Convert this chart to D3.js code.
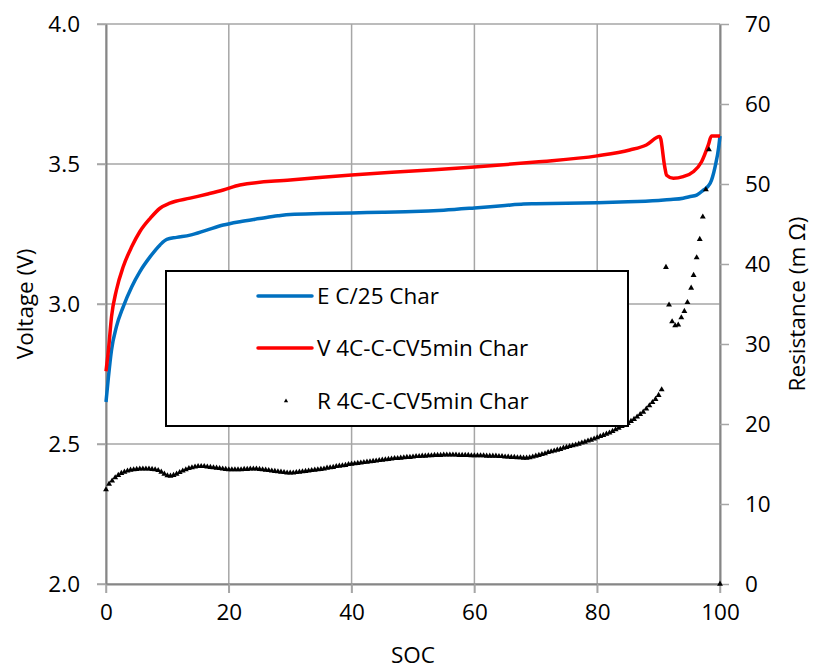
<!DOCTYPE html>
<html>
<head>
<meta charset="utf-8">
<script src="https://cdn.jsdelivr.net/npm/d3@7"></script>
<style>
  body { margin: 0; background: #fff; }
  svg text { font-family: "Open Sans", "Noto Sans", sans-serif; fill: #000; }
</style>
</head>
<body>
<div id="chart"></div>
<script>
// E C/25 Char (SOC, V)
const socE = [0, 0.4, 0.9, 1.7, 2.8, 4.2, 5.5, 7.2, 8.8, 9.9, 11.5, 13.7, 16.4, 19.1, 21.8, 25, 28, 30, 35, 40, 45, 50, 55, 60, 65, 68, 70, 75, 80, 85, 90, 92, 94, 95, 96.2, 97.2, 98.4, 99.2, 99.8, 100];
const voltE = [2.65, 2.74, 2.836, 2.919, 2.99, 3.062, 3.115, 3.169, 3.211, 3.231, 3.238, 3.246, 3.264, 3.282, 3.294, 3.305, 3.315, 3.32, 3.323, 3.325, 3.328, 3.33, 3.335, 3.343, 3.352, 3.357, 3.358, 3.36, 3.362, 3.365, 3.37, 3.373, 3.378, 3.383, 3.389, 3.405, 3.431, 3.49, 3.562, 3.6];

// V 4C-C-CV5min Char (SOC, V)
const socV = [0, 0.4, 0.9, 1.7, 2.8, 4.2, 5.5, 7.2, 8.8, 10.4, 13.7, 16.4, 19.1, 21.8, 30, 40, 50, 60, 70, 80, 85.3, 88, 90.2, 91.0, 91.3, 92.4, 94.0, 95.7, 97.0, 98.1, 98.6, 100];
const voltV = [2.76, 2.836, 2.955, 3.05, 3.133, 3.205, 3.258, 3.306, 3.342, 3.36, 3.378, 3.392, 3.407, 3.425, 3.443, 3.461, 3.475, 3.489, 3.507, 3.529, 3.55, 3.568, 3.598, 3.49, 3.46, 3.449, 3.455, 3.473, 3.508, 3.568, 3.6, 3.6];

// R 4C-C-CV5min Char (m Ohm), read every 0.5 SOC from 0 to 90.5
const socR = d3.range(0, 91, 0.5);
const resR = [
  11.8, 12.5, 12.9, 13.3, 13.6, 13.85, 14.0, 14.15, 14.25, 14.3,
  14.35, 14.4, 14.4, 14.4, 14.4, 14.35, 14.3, 14.2, 14.0, 13.75,
  13.55, 13.5, 13.6, 13.75, 13.95, 14.15, 14.3, 14.45, 14.55, 14.65,
  14.7, 14.7, 14.7, 14.65, 14.6, 14.55, 14.5, 14.45, 14.4, 14.35,
  14.3, 14.3, 14.3, 14.3, 14.3, 14.35, 14.35, 14.4, 14.4, 14.4,
  14.35, 14.3, 14.25, 14.2, 14.15, 14.1, 14.05, 14.0, 13.95, 13.9,
  13.9, 13.9, 13.95, 14.0, 14.05, 14.1, 14.15, 14.2, 14.25, 14.3,
  14.35, 14.4, 14.5, 14.55, 14.6, 14.7, 14.75, 14.8, 14.85, 14.95,
  15.0, 15.05, 15.1, 15.15, 15.2, 15.25, 15.3, 15.35, 15.4, 15.45,
  15.5, 15.55, 15.6, 15.65, 15.7, 15.7, 15.75, 15.8, 15.85, 15.85,
  15.9, 15.95, 15.95, 16.0, 16.0, 16.05, 16.05, 16.1, 16.1, 16.1,
  16.15, 16.15, 16.15, 16.15, 16.15, 16.1, 16.1, 16.1, 16.1, 16.05,
  16.05, 16.05, 16.05, 16.05, 16.0, 16.0, 16.0, 16.0, 15.95, 15.95,
  15.9, 15.9, 15.85, 15.85, 15.8, 15.8, 15.75, 15.75, 15.8, 15.9,
  16.0, 16.1, 16.2, 16.3, 16.45, 16.55, 16.65, 16.75, 16.85, 17.0,
  17.1, 17.2, 17.3, 17.4, 17.5, 17.65, 17.75, 17.9, 18.0, 18.15,
  18.3, 18.45, 18.6, 18.75, 18.9, 19.1, 19.3, 19.5, 19.7, 19.9,
  20.1, 20.35, 20.6, 20.9, 21.2, 21.5, 21.9, 22.3, 22.7, 23.1,
  23.6, 24.3
];
// scattered points after the CV step
const socTail = [91.2, 91.7, 92.2, 92.7, 93.2, 93.7, 94.2, 94.7, 95.3, 95.7, 96.2, 96.7, 97.2, 97.7, 98.2, 100];
const resTail = [39.6, 34.9, 32.8, 32.3, 32.4, 33.3, 34.1, 35.2, 37.0, 38.6, 40.8, 43.1, 45.9, 49.3, 54.3, 0];

const xTicks = [0, 20, 40, 60, 80, 100];
const yTicks = [2.0, 2.5, 3.0, 3.5, 4.0];
const y2Ticks = [0, 10, 20, 30, 40, 50, 60, 70];
const seriesNames = ["E C/25 Char", "V 4C-C-CV5min Char", "R 4C-C-CV5min Char"];

const width = 814;
const height = 671;
const margin = { top: 24, right: 94, bottom: 87, left: 106 };
const fontSize = "22.5px";

const svg = d3.select("#chart").append("svg")
  .attr("width", width)
  .attr("height", height);

const x = d3.scaleLinear().domain([0, 100]).range([margin.left, width - margin.right]);
const y = d3.scaleLinear().domain([2, 4]).range([height - margin.bottom, margin.top]);
const y2 = d3.scaleLinear().domain([0, 70]).range([height - margin.bottom, margin.top]);

const gridColor = "#a6a6a6";
const axisColor = "#868686";

// Grid
svg.append("g").selectAll("line").data(yTicks).enter().append("line")
  .attr("x1", x(0) - 9).attr("x2", x(100))
  .attr("y1", (d) => y(d)).attr("y2", (d) => y(d))
  .attr("stroke", gridColor).attr("stroke-width", 1.5);
svg.append("g").selectAll("line").data(xTicks).enter().append("line")
  .attr("x1", (d) => x(d)).attr("x2", (d) => x(d))
  .attr("y1", y(4)).attr("y2", y(2) + 9)
  .attr("stroke", gridColor).attr("stroke-width", 1.5);

// Axes
const styleAxis = (g) => {
  g.select(".domain").attr("stroke", axisColor).attr("stroke-width", 2);
  g.selectAll(".tick line").attr("stroke", gridColor).attr("stroke-width", 1.5);
  g.selectAll("text").style("font-size", fontSize);
};

svg.append("g")
  .attr("transform", `translate(0,${y(2)})`)
  .call(d3.axisBottom(x).tickValues(xTicks).tickSize(9).tickSizeOuter(0).tickPadding(11))
  .call(styleAxis);

svg.append("g")
  .attr("transform", `translate(${x(0)},0)`)
  .call(d3.axisLeft(y).tickValues(yTicks).tickFormat(d3.format(".1f")).tickSize(9).tickSizeOuter(0).tickPadding(17))
  .call(styleAxis);

svg.append("g")
  .attr("transform", `translate(${x(100)},0)`)
  .call(d3.axisRight(y2).tickValues(y2Ticks).tickSize(9).tickSizeOuter(0).tickPadding(16))
  .call(styleAxis);

// Axis titles
svg.append("text")
  .attr("transform", `translate(25,${(y(2) + y(4)) / 2}) rotate(-90)`)
  .attr("text-anchor", "middle").attr("dy", "0.35em")
  .style("font-size", fontSize).text("Voltage (V)");
svg.append("text")
  .attr("transform", `translate(797,${(y(2) + y(4)) / 2}) rotate(-90)`)
  .attr("text-anchor", "middle").attr("dy", "0.35em")
  .style("font-size", fontSize).text("Resistance (m Ω)");
svg.append("text")
  .attr("x", (x(0) + x(100)) / 2).attr("y", 655)
  .attr("text-anchor", "middle").attr("dy", "0.35em")
  .style("font-size", fontSize).text("SOC");

// Lines
const lineE = d3.line().x((d, i) => x(socE[i])).y((d) => y(d)).curve(d3.curveMonotoneX);
const lineV = d3.line().x((d, i) => x(socV[i])).y((d) => y(d)).curve(d3.curveMonotoneX);

svg.append("path").datum(voltE)
  .attr("d", lineE).attr("fill", "none")
  .attr("stroke", "#0070c0").attr("stroke-width", 3.5).attr("stroke-linejoin", "round");
svg.append("path").datum(voltV)
  .attr("d", lineV).attr("fill", "none")
  .attr("stroke", "#ff0000").attr("stroke-width", 3.5).attr("stroke-linejoin", "round");

// Resistance markers
const tri = d3.symbol().type(d3.symbolTriangle).size(15);
const rPoints = socR.map((s, i) => [s, resR[i]]).concat(socTail.map((s, i) => [s, resTail[i]]));
svg.append("g").selectAll("path").data(rPoints).enter().append("path")
  .attr("d", tri)
  .attr("transform", (d) => `translate(${x(d[0])},${y2(d[1])})`)
  .attr("fill", "#000");

// Legend
const legend = svg.append("g");
legend.append("rect")
  .attr("x", 166).attr("y", 271).attr("width", 462).attr("height", 155)
  .attr("fill", "#fff").attr("stroke", "#000").attr("stroke-width", 2);
const legY = [296, 348, 401];
legend.append("line").attr("x1", 258).attr("x2", 312).attr("y1", legY[0]).attr("y2", legY[0])
  .attr("stroke", "#0070c0").attr("stroke-width", 3.5).attr("stroke-linecap", "round");
legend.append("line").attr("x1", 258).attr("x2", 312).attr("y1", legY[1]).attr("y2", legY[1])
  .attr("stroke", "#ff0000").attr("stroke-width", 3.5).attr("stroke-linecap", "round");
legend.append("path").attr("d", d3.symbol().type(d3.symbolTriangle).size(8))
  .attr("transform", `translate(286,${legY[2]})`).attr("fill", "#000");
legend.selectAll("text.leg").data(seriesNames).enter().append("text")
  .attr("class", "leg")
  .attr("x", 317).attr("y", (d, i) => legY[i]).attr("dy", "0.35em")
  .style("font-size", fontSize).text((d) => d);
</script>
</body>
</html>
